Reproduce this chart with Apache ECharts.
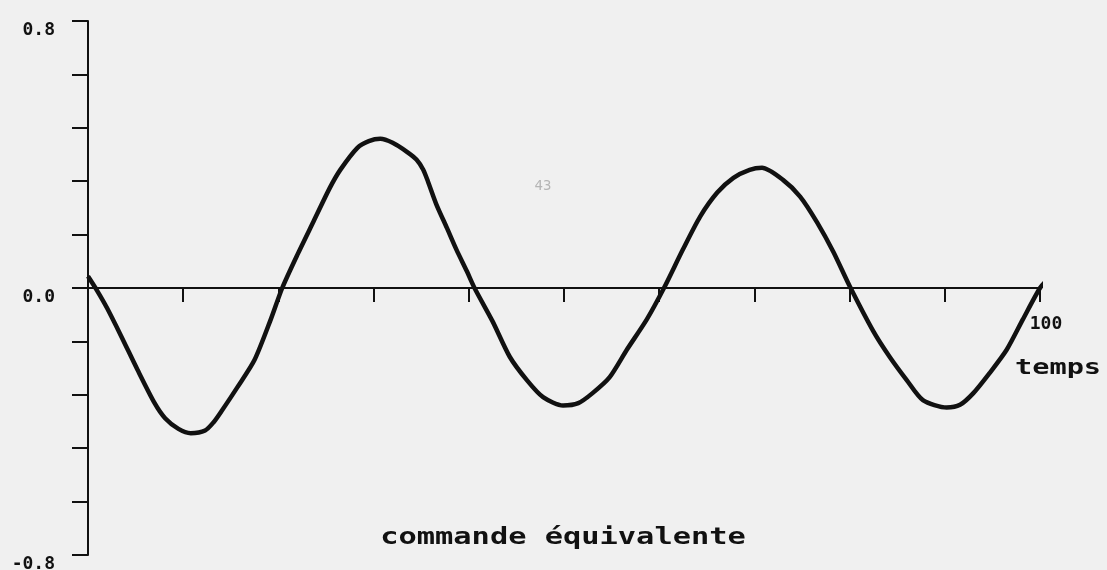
<!DOCTYPE html>
<html>
<head>
<meta charset="utf-8">
<script src="https://cdn.jsdelivr.net/npm/echarts@6/dist/echarts.min.js"></script>
<style>
  html, body { margin: 0; padding: 0; background: #f0f0f0; }
  #chart { width: 1107px; height: 570px; }
</style>
</head>
<body>
<div id="chart"></div>
<script>
// Time samples (temps) and the equivalent command signal at those instants
const temps = [0, 1, 2, 3.5, 5.2, 7, 8.1, 9.5, 10.8, 12.3, 13.2, 14, 15.7, 17.5, 19.2, 20.4,
  22, 23.7, 25.4, 26.5, 28.3, 29.5, 30.7, 32, 33.5, 34.5, 35.2, 35.7, 36.6, 37.7, 38.7, 39.8, 40.6,
  42.5, 44.3, 46.1, 47.8, 49.9, 51.5, 53, 54.8, 56.6, 58.7, 60.5,
  62.5, 64.3, 66.1, 67.8, 69.5, 70.8, 73, 74.8, 76.6, 78.3, 80,
  82.5, 84.2, 86, 87.7, 90.2, 91.6, 93, 94.7, 96.5, 98.2, 100, 100.8];
const commande = [0.035, -0.01, -0.06, -0.145, -0.245, -0.345, -0.39, -0.422, -0.435, -0.427, -0.402, -0.37, -0.297, -0.215, -0.094, 0.0,
  0.1, 0.2, 0.30, 0.354, 0.42, 0.44, 0.447, 0.435, 0.408, 0.385, 0.355, 0.32, 0.25, 0.18, 0.115, 0.05, 0.0,
  -0.1, -0.206, -0.276, -0.327, -0.352, -0.345, -0.315, -0.267, -0.185, -0.094, 0.0,
  0.116, 0.214, 0.286, 0.33, 0.354, 0.36, 0.324, 0.274, 0.196, 0.108, 0.006,
  -0.13, -0.206, -0.276, -0.336, -0.358, -0.35, -0.315, -0.255, -0.185, -0.094, 0.0, 0.025];

// Axis ranges and the few tick labels that are printed
const xMin = 0, xMax = 100, xStep = 10;
const yMin = -0.8, yMax = 0.8, yStep = 0.16;
const yTickLabels = { '0.8': '0.8', '0': '0.0', '-0.8': '-0.8' };
const xEndLabel = '100';
const xName = 'temps';
const title = 'commande équivalente';

const ink = '#111';
const mono = '"DejaVu Sans Mono", monospace';

const chart = echarts.init(document.getElementById('chart'), null, { renderer: 'canvas' });

chart.setOption({
  animation: false,
  backgroundColor: '#f0f0f0',
  grid: { left: 88, top: 21, width: 952, height: 534, containLabel: false, outerBoundsMode: 'none' },
  xAxis: {
    type: 'value',
    min: xMin, max: xMax, interval: xStep,
    axisLine: { show: true, onZero: true, lineStyle: { color: ink, width: 2 } },
    axisTick: { show: true, inside: false, length: 14, lineStyle: { color: ink, width: 2 } },
    splitLine: { show: false },
    axisLabel: { show: false }
  },
  yAxis: {
    type: 'value',
    min: yMin, max: yMax, interval: yStep,
    axisLine: { show: true, onZero: false, lineStyle: { color: ink, width: 2 } },
    axisTick: { show: true, inside: false, length: 16, lineStyle: { color: ink, width: 2 } },
    splitLine: { show: false },
    axisLabel: {
      show: true, margin: 33, align: 'right', verticalAlign: 'top',
      color: ink, fontFamily: mono, fontWeight: 'bold', fontSize: 18,
      formatter: v => {
        const key = String(Math.round(v * 100) / 100);
        return yTickLabels[key] || '';
      }
    }
  },
  series: [{
    type: 'line',
    name: title,
    data: temps.map((t, i) => [t, commande[i]]),
    showSymbol: false,
    smooth: 0.25,
    clip: false,
    lineStyle: { color: ink, width: 4.5 }
  }]
});

// Texts: axis name, caption, end-of-axis label placed below and right of the last tick
const endPt = chart.convertToPixel({ xAxisIndex: 0, yAxisIndex: 0 }, [xMax, 0]);
chart.setOption({
  graphic: [
    {
      id: 'xname', type: 'text', x: 1015, y: 368, scaleX: 1.3,
      style: { text: xName, fill: ink, font: 'bold 22px ' + mono, textAlign: 'left', textVerticalAlign: 'middle' }
    },
    {
      id: 'caption', type: 'text', x: 563, y: 538, scaleX: 1.32,
      style: { text: title, fill: ink, font: 'bold 23px ' + mono, textAlign: 'center', textVerticalAlign: 'middle' }
    },
    {
      id: 'mark', type: 'text', x: 543, y: 186,
      style: { text: '43', fill: '#b5b5b5', font: '14px ' + mono, textAlign: 'center', textVerticalAlign: 'middle' }
    },
    {
      id: 'xend', type: 'text', x: endPt[0] + 6, y: endPt[1] + 36,
      style: { text: xEndLabel, fill: ink, font: 'bold 18px ' + mono, textAlign: 'center', textVerticalAlign: 'middle' }
    }
  ]
});
</script>
</body>
</html>
